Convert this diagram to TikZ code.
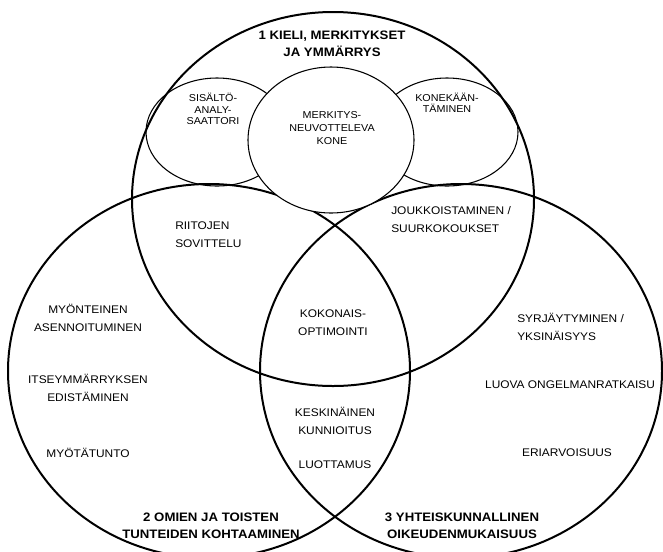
\documentclass[tikz,border=0pt]{standalone}
\usepackage{fontspec}
\setmainfont{Liberation Sans}[FakeStretch=1.077]
\begin{document}
\begin{tikzpicture}[x=0.75pt,y=-0.75pt,
  big/.style={line width=1.5pt},
  thin/.style={line width=0.8pt},
  reg/.style={inner sep=0pt,align=center,font=\fontsize{8.3}{13.5}\selectfont},
  sml/.style={inner sep=0pt,align=center,font=\fontsize{7.5}{8.6}\selectfont},
  ttl/.style={inner sep=0pt,align=center,font=\bfseries\fontsize{9.2}{12.8}\selectfont},
  lft/.style={reg,align=left,anchor=west}]
\useasboundingbox (0,0) rectangle (663,551);
\begin{scope}
\clip (0,0) rectangle (663,551);
% big circles
\draw[big] (333,199) ellipse [x radius=150.75pt, y radius=140.25pt];
\draw[big] (209,371) ellipse [x radius=150.75pt, y radius=140.25pt];
\draw[big] (461,371) ellipse [x radius=150.75pt, y radius=140.25pt];
% small ellipses
\draw[thin] (217,132) ellipse [x radius=53.25pt, y radius=40.5pt];
\draw[thin] (447,132) ellipse [x radius=53.25pt, y radius=40.5pt];
\draw[thin,fill=white] (331,140) ellipse [x radius=62.25pt, y radius=54.75pt];
\end{scope}
% labels
\node[ttl] (t1) at (332,44) {1 KIELI, MERKITYKSET\\JA YMMÄRRYS};
\node[sml] (sis) at (213,109) {SISÄLTÖ-\\ANALY-\\SAATTORI};
\node[sml,font=\fontsize{7.5}{9.6}\selectfont] (mer) at (332,128) {MERKITYS-\\NEUVOTTELEVA\\KONE};
\node[sml] (kon) at (447,103) {KONEKÄÄN-\\TÄMINEN};
\node[lft] (rii) at (175,235) {RIITOJEN\\SOVITTELU};
\node[lft] (jou) at (391,220) {JOUKKOISTAMINEN /\\SUURKOKOUKSET};
\node[reg] (myo) at (88,318) {MYÖNTEINEN\\ASENNOITUMINEN};
\node[reg] (kok) at (333,323) {KOKONAIS-\\OPTIMOINTI};
\node[lft] (syr) at (517,327) {SYRJÄYTYMINEN /\\YKSINÄISYYS};
\node[reg] (its) at (88,388) {ITSEYMMÄRRYKSEN\\EDISTÄMINEN};
\node[reg] (luo) at (570,385) {LUOVA ONGELMANRATKAISU};
\node[reg] (kes) at (335,421) {KESKINÄINEN\\KUNNIOITUS};
\node[reg] (myt) at (88,453) {MYÖTÄTUNTO};
\node[reg] (luot) at (335,465) {LUOTTAMUS};
\node[reg] (eri) at (567,453) {ERIARVOISUUS};
\node[ttl] (t2) at (211,526) {2 OMIEN JA TOISTEN\\TUNTEIDEN KOHTAAMINEN};
\node[ttl] (t3) at (462,526) {3 YHTEISKUNNALLINEN\\OIKEUDENMUKAISUUS};
\end{tikzpicture}
\end{document}
